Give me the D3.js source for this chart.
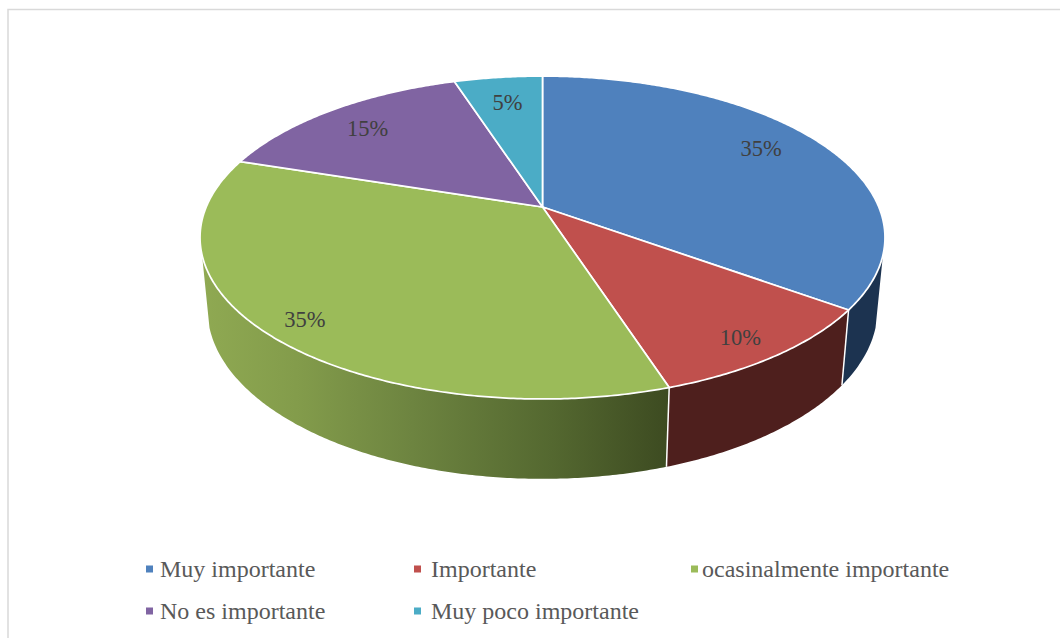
<!DOCTYPE html>
<html lang="es">
<head>
<meta charset="utf-8">
<title>Importancia</title>
<script src="https://cdn.jsdelivr.net/npm/d3@7/dist/d3.min.js"></script>
<style>
  html, body { margin: 0; padding: 0; background: #fff; overflow: hidden; }
  svg { display: block; }
  text { font-family: "Liberation Serif", serif; }
</style>
</head>
<body>
<svg id="chart" width="1060" height="638"></svg>
<script>
// Survey answers, in percent
const categories = ["Muy importante", "Importante", "ocasinalmente importante", "No es importante", "Muy poco importante"];
const percentages = [35, 10, 35, 15, 5];
const topColors = ["#4f81bd", "#c0504d", "#9bbb59", "#8064a2", "#4bacc6"];
const wallColors = ["#1c3350", "#4e1f1d", null, "#3f3052", "#1f5666"];

// Label placement relative to each slice: angular shift (degrees) and radial fraction
const labelShift = [-3.2, 1, -0.7, -0.7, 0.2];
const labelRadius = [0.81, 0.885, 0.89, 0.804, 0.782];

const svg = d3.select("#chart");

// Frame of the chart area
svg.append("path")
  .attr("d", "M8,638V9.5H1060")
  .attr("fill", "none").attr("stroke", "#d9d9d9").attr("stroke-width", 1.5);

// Perspective projection of the unit disc onto the page: the disc's centre
// lies above the centre of its projected ellipse.
const persp = -0.189;
const topFace = { cx: 542.5, cy: 207, kx: 336.3, ky: 155.7 };
const baseFace = { cx: 542.5, cy: 277, kx: 329, ky: 163.7 };

function project(face, angle, r = 1) {
  const u = r * Math.sin(angle), v = -r * Math.cos(angle);
  const w = 1 + persp * v;
  return [face.cx + face.kx * u / w, face.cy + face.ky * v / w];
}

const pie = d3.pie().sort(null).value(d => d);
const arcs = pie(percentages);
const deg = Math.PI / 180;
const wallFrom = 107 * deg, wallTo = 253 * deg;   // silhouette tangents of the wall
const line = d3.line();

function rim(face, a0, a1) {
  const n = Math.max(2, Math.ceil((a1 - a0) / (0.5 * deg)));
  return d3.range(n + 1).map(i => project(face, a0 + (a1 - a0) * i / n));
}

// Horizontal shading of the large green wall
const defs = svg.append("defs");
const greenGrad = defs.append("linearGradient").attr("id", "greenWall")
  .attr("gradientUnits", "userSpaceOnUse").attr("x1", 203).attr("x2", 668).attr("y1", 0).attr("y2", 0);
[[0, "#8fa952"], [0.2, "#839c4b"], [0.45, "#6d8440"], [0.75, "#546830"], [1, "#3d4b21"]]
  .forEach(([o, c]) => greenGrad.append("stop").attr("offset", o).attr("stop-color", c));

// Outer walls of the slices facing the viewer
const walls = svg.append("g");
arcs.forEach((a, i) => {
  const a0 = Math.max(a.startAngle, wallFrom), a1 = Math.min(a.endAngle, wallTo);
  if (a1 <= a0) return;
  const outline = rim(topFace, a0, a1).concat(rim(baseFace, a0, a1).reverse());
  walls.append("path")
    .attr("d", line(outline) + "Z")
    .attr("fill", wallColors[i] || "url(#greenWall)");
});
// White seams where slices meet on the wall
arcs.forEach(a => {
  [a.startAngle].filter(t => t > wallFrom && t < wallTo).forEach(t => {
    walls.append("path")
      .attr("d", line([project(topFace, t), project(baseFace, t)]))
      .attr("stroke", "#fff").attr("stroke-width", 1.5).attr("fill", "none");
  });
});

// Top faces of the slices
svg.append("g").selectAll("path").data(arcs).join("path")
  .attr("d", a => line([project(topFace, 0, 0), ...rim(topFace, a.startAngle, a.endAngle)]) + "Z")
  .attr("fill", (a, i) => topColors[i])
  .attr("stroke", "#fff").attr("stroke-width", 1.75).attr("stroke-linejoin", "round");

// Percentage labels
svg.append("g").selectAll("text").data(arcs).join("text")
  .attr("transform", (a, i) => {
    const mid = (a.startAngle + a.endAngle) / 2 + labelShift[i] * deg;
    const [x, y] = project(topFace, mid, labelRadius[i]);
    return `translate(${x},${y})`;
  })
  .attr("text-anchor", "middle").attr("dy", "0.34em")
  .attr("font-size", 22.5).attr("fill", "#404040")
  .text(a => a.value + "%");

// Legend, two rows
const legendX = [146, 414, 691];
const legendTextX = [160, 431, 702];
const legendY = [569, 611];
const legend = svg.append("g").selectAll("g").data(categories).join("g")
  .attr("transform", (d, i) => `translate(0,${legendY[Math.floor(i / 3)]})`);
legend.append("rect")
  .attr("x", (d, i) => legendX[i % 3]).attr("y", -3.5)
  .attr("width", 7).attr("height", 7)
  .attr("fill", (d, i) => topColors[i]);
legend.append("text")
  .attr("x", (d, i) => legendTextX[i % 3]).attr("dy", "0.34em")
  .attr("font-size", 24).attr("fill", "#595959")
  .text(d => d);
</script>
</body>
</html>
